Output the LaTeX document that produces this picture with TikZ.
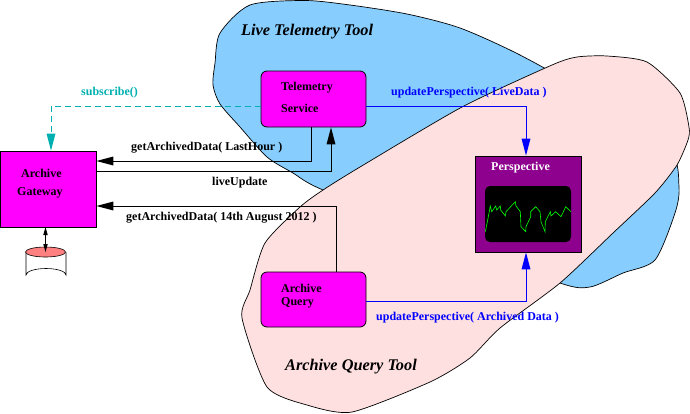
\documentclass[tikz,border=0pt]{standalone}
\usepackage{fontspec}
\setmainfont{Liberation Serif}
\usetikzlibrary{arrows.meta,shapes.geometric}
\definecolor{blobblue}{HTML}{87CEFF}
\definecolor{blobpink}{HTML}{FFE0E0}
\definecolor{teal2}{HTML}{00B0B0}
\definecolor{purple2}{HTML}{8E008E}
\definecolor{diskred}{HTML}{FF8080}
\definecolor{mag}{HTML}{FF00FF}
\definecolor{blue2}{HTML}{0000FF}
\definecolor{grn}{HTML}{00FF00}
\tikzset{
  x=1pt,y=-1pt,
  blob/.style={draw=black,line width=0.7pt,line join=round},
  boxm/.style={draw=black,fill=mag,line width=0.8pt,inner sep=0},
  lbl/.style={anchor=west,inner sep=0,font=\bfseries\fontsize{12}{14}\selectfont},
  ttl/.style={anchor=west,inner sep=0,font=\bfseries\itshape\fontsize{16.3}{18}\selectfont},
  conn/.style={line width=0.8pt},
  bigtip/.style={-{Triangle[length=17pt,width=9pt,line width=0pt]}},
}
\begin{document}
\begin{tikzpicture}
\useasboundingbox (0,0) rectangle (690,413);
% blobs
\draw[blob,fill=blobblue] plot[smooth cycle,tension=0.45] coordinates {
 (305,0.5)(350,5)(407,14)(460,28)(520,55)(600,100)(670,150)(679,187)(675,213)(655,260)(623,273)(590,287)(560,283)(450,240)(323,190)(293,173)(267,157)(240,127)(220,104)(213,85)(215,63)(220,33)(250,5)};
\draw[blob,fill=blobpink] plot[smooth cycle,tension=0.4] coordinates {
 (577,57)(607,56)(647,62)(680,93)(689,127)(688,140)(677,165)(655,193)(613,233)(560,283)(500,328)(470,358)(430,382)(352,412)(307,405)(267,387)(242,318)(250,290)(265,243)(300,207)(323,190)(360,167)(462,107)(552,65)};
% boxes
\node[boxm,rounded corners=6pt,minimum width=105pt,minimum height=56pt] (tel) at (313.5,99) {};
\node[boxm,rounded corners=6pt,minimum width=105pt,minimum height=55pt] (aq) at (313.5,299.5) {};
\node[boxm,minimum width=96pt,minimum height=76pt] (gw) at (48,189) {};
\node[draw=black,fill=purple2,line width=0.8pt,inner sep=0,minimum width=106pt,minimum height=96pt] (persp) at (528,204) {};
\node[fill=black,rounded corners=5pt,inner sep=0,minimum width=86pt,minimum height=56pt] (screen) at (528,214) {};
\draw[grn,line width=0.6pt] (485.3,231.7)--(487.7,220)--(490.3,206)--(491.7,211.7)--(495.7,206)--(496.7,210)--(500.3,206)--(500.7,210)--(505.3,216)--(506,211.7)--(515.3,201.7)--(516,206)--(520.3,211.7)--(521,226.7)--(525.7,231.7)--(526,226.7)--(530.7,216.7)--(530.7,211.7)--(535.7,206.7)--(540,211.7)--(541,221.7)--(545,231.7)--(545.3,221.7)--(550.3,211.7)--(551,216)--(555.7,211.7)--(561,216.7)--(565.7,206.7)--(571,211.7);
% cylinder
\coordinate (diskTop) at (45.5,252);
\draw[line width=0.6pt,fill=white] (26,252)--(26,275) arc[x radius=20,y radius=6.5,start angle=180,end angle=360]--(66,252);
\draw[line width=0.6pt,fill=diskred] (diskTop) ellipse[x radius=20,y radius=5];
% connectors
\coordinate (a1) at (51,106);
\draw[teal2,conn,dash pattern=on 6pt off 4pt,bigtip] (tel.west|-a1) -- (a1) -- (a1|-gw.north);
\coordinate (a2) at (311,161);
\draw[conn,bigtip] (a2|-tel.south) -- (a2) -- (a2-|gw.east);
\coordinate (a3) at (331,171);
\draw[conn,bigtip] (a3-|gw.east) -- (a3) -- (a3|-tel.south);
\coordinate (a4) at (336,206);
\draw[conn,bigtip] (a4|-aq.north) -- (a4) -- (a4-|gw.east);
\coordinate (a5) at (526,106);
\draw[blue2,conn,bigtip] (a5-|tel.east) -- (a5) -- (a5|-persp.north);
\coordinate (a6) at (526,301);
\draw[blue2,conn,bigtip] (a6-|aq.east) -- (a6) -- (a6|-persp.south);
\draw[line width=0.8pt,{Triangle[length=8pt,width=4.5pt,line width=0pt]}-{Triangle[length=8pt,width=4.5pt,line width=0pt]}] (45.5,227) -- (diskTop);
% labels
\node[lbl,text=teal2] (l1) at (81,93) {subscribe()};
\node[lbl] (l2) at (131,148) {getArchivedData( LastHour )};
\node[lbl] (l3) at (212,183) {liveUpdate};
\node[lbl] (l4) at (126,218) {getArchivedData( 14th August 2012 )};
\node[lbl] (l5) at (21,173) {Archive};
\node[lbl] (l6) at (17,193) {Gateway};
\node[lbl] (l7) at (281,88) {Telemetry};
\node[lbl] (l8) at (281,108) {Service};
\node[lbl] (l9) at (281,288) {Archive};
\node[lbl] (l10) at (281,303) {Query};
\node[lbl,text=blue2] (l11) at (391,93) {updatePerspective( LiveData )};
\node[lbl,text=blue2] (l12) at (376,318) {updatePerspective( Archived Data )};
\node[lbl,text=white] (l13) at (491,168) {Perspective};
\node[ttl] (t1) at (241,32) {Live Telemetry Tool};
\node[ttl] (t2) at (285,367) {Archive Query Tool};
\end{tikzpicture}
\end{document}
